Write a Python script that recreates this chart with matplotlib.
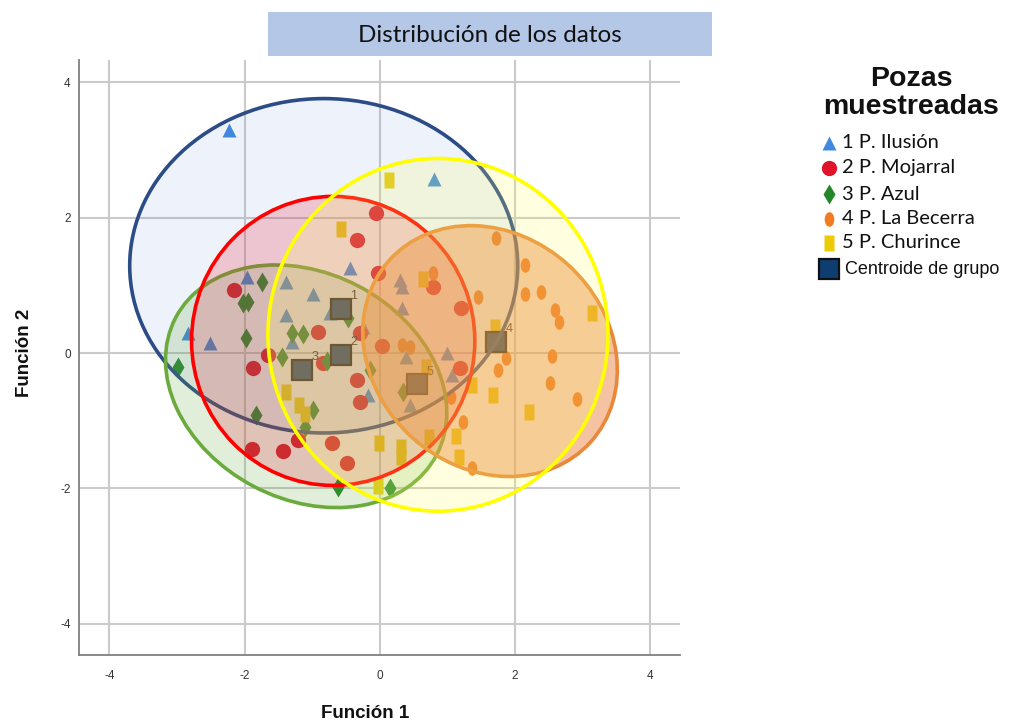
import numpy as np
import matplotlib
matplotlib.use("Agg")
import matplotlib.pyplot as plt
from matplotlib.patches import Ellipse, Rectangle
from matplotlib.path import Path
from matplotlib.transforms import Affine2D

plt.rcParams["axes.unicode_minus"] = False

# ---------------- data ----------------
title = "Distribución de los datos"
x_label = "Función 1"
y_label = "Función 2"
legend_title = "Pozas\nmuestreadas"
group_labels = ["1 P. Ilusión", "2 P. Mojarral", "3 P. Azul", "4 P. La Becerra", "5 P. Churince"]
centroid_label = "Centroide de grupo"
centroid_names = ["1", "2", "3", "4", "5"]
ticks = [-4, -2, 0, 2, 4]

g1_x = [-2.23, 0.80, -1.97, -2.84, -2.51, -1.39, -0.99, -1.39, -1.30, -0.44, -0.74, 0.30, 0.33, 0.33, -0.25, 0.99, 1.07, 0.38, 0.44, -0.18]
g1_y = [3.29, 2.57, 1.12, 0.30, 0.15, 1.05, 0.87, 0.56, 0.16, 1.25, 0.59, 1.08, 0.98, 0.66, 0.38, 0.00, -0.32, -0.06, -0.77, -0.62]

g2_x = [-0.06, -0.34, -0.03, 0.78, -2.16, 1.20, -0.30, -0.92, -1.66, -1.87, 0.03, -0.84, -0.34, -0.30, 1.18, -0.71, -0.49, -1.89, -1.43, -1.21]
g2_y = [2.07, 1.67, 1.19, 0.97, 0.93, 0.67, 0.30, 0.31, -0.03, -0.22, 0.10, -0.15, -0.40, -0.72, -0.22, -1.33, -1.62, -1.41, -1.45, -1.28]

g3_x = [-1.75, -2.03, -1.95, -1.98, -1.30, -1.14, -1.45, -2.99, -0.47, -0.78, -1.83, -0.99, -1.11, -0.62, -0.15, 0.34, 0.15]
g3_y = [1.05, 0.74, 0.75, 0.22, 0.30, 0.28, -0.06, -0.21, 0.52, -0.12, -0.92, -0.84, -1.09, -1.98, -0.25, -0.58, -2.00]

g4_x = [1.72, 2.14, 2.14, 2.38, 1.45, 2.59, 2.65, 0.78, 0.33, 0.44, 1.86, 1.75, 2.54, 2.51, 2.91, 1.23, 1.36, 1.05]
g4_y = [1.70, 1.30, 0.88, 0.90, 0.83, 0.63, 0.46, 1.18, 0.12, 0.09, -0.07, -0.25, -0.04, -0.44, -0.68, -1.02, -1.70, -0.65]

g5_x = [0.13, -0.58, 0.64, 3.14, 1.70, 0.68, 1.67, 2.20, 1.36, -0.01, 0.31, 0.31, 0.72, 1.12, 1.17, -0.03, -1.39, -1.20, -1.11]
g5_y = [2.55, 1.84, 1.09, 0.59, 0.38, -0.21, -0.62, -0.87, -0.47, -1.33, -1.38, -1.53, -1.24, -1.22, -1.53, -1.97, -0.58, -0.77, -0.90]

centroid_x = [-0.58, -0.58, -1.15, 1.72, 0.55]
centroid_y = [0.65, -0.03, -0.25, 0.17, -0.46]

ell_cx = [-0.83, -0.69, -1.09, 1.63, 0.86]
ell_cy = [1.29, 0.18, -0.49, 0.03, 0.27]
ell_w = [5.74, 4.19, 4.36, 4.01, 5.03]
ell_h = [4.94, 4.27, 3.34, 3.44, 5.21]
ell_angle = [0, 0, -27.7, -42, 0]

# ---------------- styles ----------------
oval = Path.unit_circle().transformed(Affine2D().scale(0.66, 1.0))
rect = Path([(-0.31, -0.5), (0.31, -0.5), (0.31, 0.5), (-0.31, 0.5), (-0.31, -0.5)],
            [Path.MOVETO, Path.LINETO, Path.LINETO, Path.LINETO, Path.CLOSEPOLY])

point_colors = ["#3F8AE0", "#E0132B", "#23872A", "#F27A22", "#ECCB05"]
point_markers = ["^", "o", "d", oval, rect]
point_sizes = [10, 11, 10, 10.5, 11.5]

edge_colors = ["#2B4C86", "#FF0000", "#6BAA3C", "#E8893A", "#FFFF00"]
fill_colors = ["#4A78C8", "#E6142D", "#64AA46", "#EB7832", "#FFFF64"]
fill_alpha = [0.09, 0.20, 0.20, 0.45, 0.20]
draw_order = [0, 2, 1, 3, 4]

W, H = 1011, 726
fig = plt.figure(figsize=(W / 100, H / 100), dpi=100)
fig.patch.set_facecolor("white")

L, R, T, B = 79, 680, 60, 655
ax = fig.add_axes([L / W, 1 - B / H, (R - L) / W, (B - T) / H])
ax.set_xlim(-4.45, 4.44)
ax.set_ylim(-4.46, 4.33)
ax.set_xticks(ticks)
ax.set_yticks(ticks)
ax.grid(True, color="#CACACA", lw=1.5, zorder=0)
ax.set_axisbelow(True)
for s in ["top", "right"]:
    ax.spines[s].set_visible(False)
for s in ["left", "bottom"]:
    ax.spines[s].set_color("#808080")
    ax.spines[s].set_linewidth(1.3)
ax.tick_params(length=0, labelsize=8.5, labelcolor="#333333")
ax.tick_params(axis="x", pad=11)
ax.tick_params(axis="y", pad=6)
for lab in ax.get_xticklabels() + ax.get_yticklabels():
    lab.set_family("Liberation Sans")

groups_x = [g1_x, g2_x, g3_x, g4_x, g5_x]
groups_y = [g1_y, g2_y, g3_y, g4_y, g5_y]
for i in range(5):
    ax.plot(groups_x[i], groups_y[i], ls="none", marker=point_markers[i],
            ms=point_sizes[i], mfc=point_colors[i], mec="none", zorder=1)

ax.plot(centroid_x, centroid_y, ls="none", marker="s", ms=14, mfc="#123F73",
        mec="#111111", mew=1.6, zorder=1.5)
for cx, cy, nm in zip(centroid_x, centroid_y, centroid_names):
    ax.annotate(nm, (cx, cy), xytext=(7, 7), textcoords="offset points",
                fontsize=9, color="#222222", family="Liberation Sans", zorder=1.6)

for k, i in enumerate(draw_order):
    ax.add_patch(Ellipse((ell_cx[i], ell_cy[i]), ell_w[i], ell_h[i], angle=ell_angle[i],
                         facecolor=fill_colors[i], alpha=fill_alpha[i], edgecolor="none",
                         zorder=2 + k))
    ax.add_patch(Ellipse((ell_cx[i], ell_cy[i]), ell_w[i], ell_h[i], angle=ell_angle[i],
                         facecolor="none", edgecolor=edge_colors[i], lw=2.6,
                         zorder=2.5 + k))

# ---------------- overlay (title box, labels, legend) ----------------
ov = fig.add_axes([0, 0, 1, 1], facecolor="none")
ov.set_xlim(0, W)
ov.set_ylim(H, 0)
ov.axis("off")

ov.add_patch(Rectangle((268, 12), 444, 44, facecolor="#B4C7E7", edgecolor="none"))
ov.text(490, 35, title, ha="center", va="center", fontsize=17.5, family="Lato", color="#111111")

ov.text(365, 713, x_label, ha="center", va="center", fontsize=13.5, weight="bold",
        family="Liberation Sans", color="#111111")
ov.text(25, 353, y_label, ha="center", va="center", rotation=90, fontsize=13.5, weight="bold",
        family="Liberation Sans", color="#111111")

ov.text(911, 93, legend_title, ha="center", va="center", fontsize=20.5, weight="bold",
        family="Liberation Sans", color="#111111", linespacing=1.12)

row_y = [143, 168, 194, 219, 243]
for i in range(5):
    ov.plot([829], [row_y[i]], ls="none", marker=point_markers[i], ms=point_sizes[i],
            mfc=point_colors[i], mec="none")
    ov.text(842, row_y[i], group_labels[i], ha="left", va="center", fontsize=14.5,
            family="Lato", color="#111111")
ov.plot([829], [269], ls="none", marker="s", ms=14, mfc="#0E3D70", mec="#111111", mew=1.6)
ov.text(845, 269, centroid_label, ha="left", va="center", fontsize=13,
        family="Liberation Sans", color="#111111")

fig.savefig("out.png", dpi=100)
